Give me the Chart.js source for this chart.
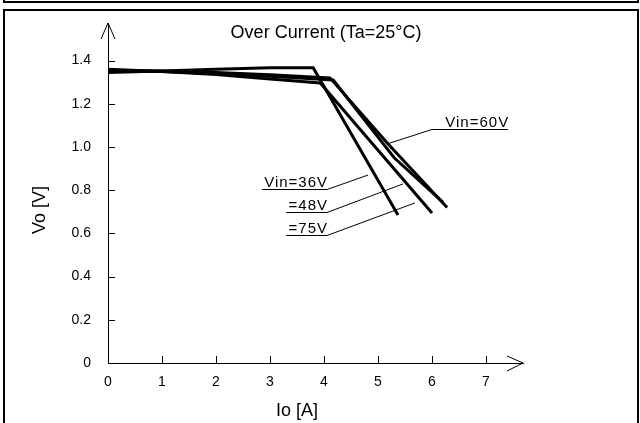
<!DOCTYPE html>
<html>
<head>
<meta charset="utf-8">
<title>Over Current</title>
<script src="https://cdn.jsdelivr.net/npm/chart.js@4.4.1/dist/chart.umd.min.js"></script>
<style>
html, body { margin:0; padding:0; background:#fff; }
#wrap { width:640px; height:423px; position:relative; }
</style>
</head>
<body>
<div id="wrap"><canvas id="chart"></canvas></div>
<script>
// ======================================================
// Data
// ======================================================

const io36 = [0, 1, 2, 3, 3.8, 5.37];
const vo36 = [1.345, 1.352, 1.36, 1.367, 1.367, 0.685];

const io48 = [0, 1, 2, 3, 3.93, 6.0];
const vo48 = [1.36, 1.35, 1.335, 1.315, 1.296, 0.694];

const io60 = [0, 1, 2, 3, 4.11, 5.2, 6.28];
const vo60 = [1.355, 1.352, 1.345, 1.335, 1.32, 1.01, 0.72];

const io75 = [0, 1, 2, 3, 4.17, 5.3, 6.2];
const vo75 = [1.35, 1.35, 1.34, 1.328, 1.31, 0.95, 0.745];

const xTicks = [0, 1, 2, 3, 4, 5, 6, 7];
const yTicks = [0, 0.2, 0.4, 0.6, 0.8, 1.0, 1.2, 1.4];

const chartTitle = "Over Current (Ta=25\u00b0C)";
const xTitle = "Io [A]";
const yTitle = "Vo [V]";

// ======================================================
// Helpers
// ======================================================

function pts(xs, ys) {
    return xs.map((x, i) => ({ x: x, y: ys[i] }));
}

function line(ctx, x1, y1, x2, y2) {
    ctx.beginPath();
    ctx.moveTo(x1, y1);
    ctx.lineTo(x2, y2);
    ctx.stroke();
}

// ======================================================
// Decorations: frame, arrows, inner ticks, texts, leaders
// ======================================================

const decor = {

    id: "decor",

    beforeDraw(chart) {
        const ctx = chart.ctx;
        ctx.save();
        ctx.fillStyle = "#fff";
        ctx.fillRect(0, 0, chart.width, chart.height);
        ctx.strokeStyle = "#000";
        ctx.lineWidth = 2;
        ctx.strokeRect(4, -20, 634, 22);
        ctx.strokeRect(4, 10, 634, 440);
        ctx.restore();
    },

    afterDraw(chart) {
        const ctx = chart.ctx;
        const xs = chart.scales.x;
        const ys = chart.scales.y;
        const X = v => xs.getPixelForValue(v);
        const Y = v => ys.getPixelForValue(v);
        const x0 = X(0), y0 = Y(0);
        const a = chart.chartArea;

        ctx.save();
        ctx.strokeStyle = "#000";
        ctx.lineWidth = 1;

        // inner tick marks
        xs.ticks.forEach(t => {
            if (t.value === 0) return;
            const px = Math.round(X(t.value)) + 0.5;
            line(ctx, px, y0, px, y0 - 7);
        });
        ys.ticks.forEach(t => {
            if (t.value === 0) return;
            const py = Math.round(Y(t.value)) + 0.5;
            line(ctx, x0, py, x0 + 7, py);
        });

        // arrow heads
        line(ctx, a.right - 16, y0 - 7, a.right, y0);
        line(ctx, a.right - 16, y0 + 8, a.right, y0);
        line(ctx, x0 - 7, a.top + 16, x0, a.top);
        line(ctx, x0 + 7, a.top + 16, x0, a.top);

        // titles
        ctx.fillStyle = "#000";
        ctx.font = "18px 'Liberation Sans', Arial, sans-serif";
        ctx.textAlign = "center";
        ctx.textBaseline = "middle";
        ctx.fillText(chartTitle, 326, 33);
        ctx.fillText(xTitle, 297, 411);
        ctx.save();
        ctx.translate(40, 210);
        ctx.rotate(-Math.PI / 2);
        ctx.fillText(yTitle, 0, 0);
        ctx.restore();

        // curve labels with leader lines (data coordinates)
        ctx.font = "15px 'Liberation Sans', Arial, sans-serif";
        ctx.letterSpacing = "1px";
        ctx.textAlign = "right";
        ctx.textBaseline = "alphabetic";

        const tags = [
            { text: "Vin=60V", u1: 6.0, u2: 7.41, uy: 1.083, tx: 5.167, ty: 1.014, right: 7.41, lead: "left" },
            { text: "Vin=36V", u1: 2.85, u2: 4.056, uy: 0.806, tx: 4.815, ty: 0.870, right: 4.056, lead: "right" },
            { text: "=48V", u1: 3.30, u2: 4.056, uy: 0.699, tx: 5.463, ty: 0.829, right: 4.056, lead: "right" },
            { text: "=75V", u1: 3.30, u2: 4.056, uy: 0.593, tx: 5.685, ty: 0.741, right: 4.056, lead: "right" }
        ];

        tags.forEach(t => {
            const uy = Math.round(Y(t.uy)) + 0.5;
            line(ctx, X(t.u1), uy, X(t.u2), uy);
            const sx = t.lead === "left" ? X(t.u1) : X(t.u2);
            line(ctx, sx, uy, X(t.tx), Y(t.ty));
            ctx.fillText(t.text, X(t.right) + 1, uy - 3);
        });

        ctx.restore();
    }
};

// ======================================================
// Chart
// ======================================================

const curve = (label, xs, ys) => ({
    label: label,
    data: pts(xs, ys),
    borderColor: "#000",
    borderWidth: 3,
    pointRadius: 0,
    fill: false,
    tension: 0
});

new Chart(

    document.getElementById("chart"),

    {
        type: "line",

        data: {
            datasets: [
                curve("Vin=36V", io36, vo36),
                curve("Vin=48V", io48, vo48),
                curve("Vin=60V", io60, vo60),
                curve("Vin=75V", io75, vo75)
            ]
        },

        options: {
            responsive: true,
            maintainAspectRatio: false,
            animation: false,
            devicePixelRatio: 1,
            layout: {
                autoPadding: false,
                padding: { left: 0, top: 23, right: 117, bottom: 0 }
            },
            plugins: {
                legend: { display: false },
                tooltip: { enabled: false },
                title: { display: false }
            },
            scales: {
                x: {
                    type: "linear",
                    min: 0,
                    max: 7.685,
                    afterFit: s => { s.height = 60; s.paddingLeft = 0; s.paddingRight = 0; },
                    afterBuildTicks: s => { s.ticks = xTicks.map(v => ({ value: v })); },
                    grid: { display: false, drawTicks: false },
                    border: { display: true, color: "#000", width: 1 },
                    ticks: {
                        padding: 11,
                        color: "#000",
                        font: { family: "'Liberation Sans', Arial, sans-serif", size: 14 },
                        callback: v => String(v)
                    }
                },
                y: {
                    type: "linear",
                    min: 0,
                    max: 1.574,
                    afterFit: s => { s.width = 108; s.paddingTop = 0; s.paddingBottom = 0; },
                    afterBuildTicks: s => { s.ticks = yTicks.map(v => ({ value: v })); },
                    grid: { display: false, drawTicks: false },
                    border: { display: true, color: "#000", width: 1 },
                    ticks: {
                        padding: 17,
                        color: "#000",
                        font: { family: "'Liberation Sans', Arial, sans-serif", size: 14 },
                        callback: v => v === 0 ? "0" : v.toFixed(1)
                    }
                }
            }
        },

        plugins: [decor]
    }

);
</script>
</body>
</html>
